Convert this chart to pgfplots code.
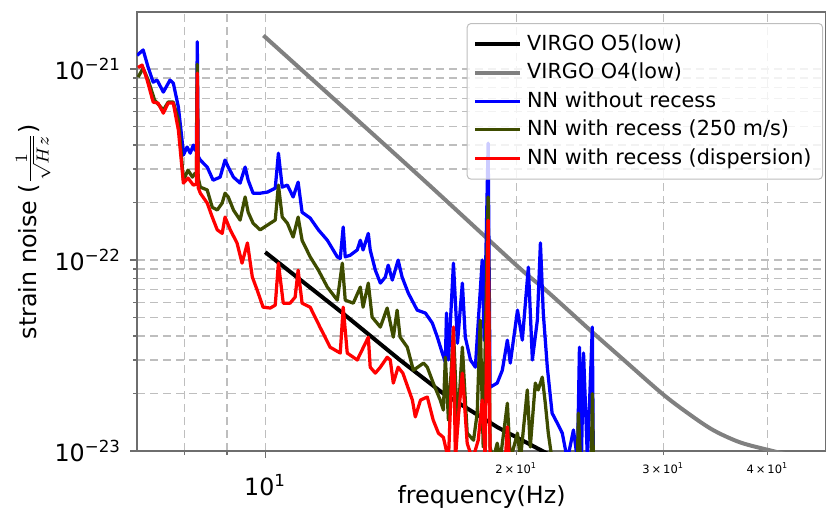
\documentclass[border=0pt]{standalone}
\usepackage{pgfplots}
\pgfplotsset{compat=1.18}
\usepackage{fontspec}
\setmainfont{DejaVu Sans}
\definecolor{nnblue}{RGB}{0,0,255}
\definecolor{nngreen}{RGB}{62,76,0}
\definecolor{nnred}{RGB}{255,0,0}
\definecolor{o4gray}{RGB}{128,128,128}
\definecolor{gridgray}{RGB}{190,190,190}
\definecolor{framegray}{RGB}{110,110,110}
\begin{document}
\begin{tikzpicture}
\begin{axis}[
  scale only axis, width=275.6pt, height=175.6pt,
  xmode=log, ymode=log,
  xmin=7.02, xmax=47, ymin=1e-23, ymax=1.99e-21,
  axis line style={framegray, line width=0.6pt},
  tick style={framegray, line width=0.6pt},
  tick align=outside, xtick pos=bottom, ytick pos=left,
  major tick length=2.8pt, minor tick length=1.6pt,
  xtick={10}, xticklabels={10\textsuperscript{1}},
  xticklabel style={yshift=-2.8pt},
  minor xtick={7,8,9,20,30,40},
  extra x ticks={20,30,40},
  extra x tick labels={2\,×\,10\textsuperscript{1},3\,×\,10\textsuperscript{1},4\,×\,10\textsuperscript{1}},
  extra x tick style={grid=none, major tick length=1.6pt, xticklabel style={yshift=3.2pt, font=\fontsize{4.6}{5.5}\selectfont}},
  ytick={1e-23,1e-22,1e-21},
  yticklabels={10\textsuperscript{−23},10\textsuperscript{−22},10\textsuperscript{−21}},
  minor ytick={2e-23,3e-23,4e-23,5e-23,6e-23,7e-23,8e-23,9e-23,2e-22,3e-22,4e-22,5e-22,6e-22,7e-22,8e-22,9e-22,2e-21},
  tick label style={font=\fontsize{9.5}{11}\selectfont},
  label style={font=\fontsize{9.5}{11}\selectfont},
  xlabel={frequency(Hz)},
  xlabel style={at={(axis description cs:0.5,0)}, anchor=base, yshift=-20.8pt},
  ylabel={strain noise ($\frac{1}{\sqrt{Hz}}$)},
  ylabel style={yshift=-5.2pt},
  grid=both,
  major grid style={gridgray, dash pattern=on 3.2pt off 2pt, line width=0.6pt},
  minor grid style={gridgray, dash pattern=on 3.2pt off 2pt, line width=0.6pt},
  legend style={at={(1,1)}, anchor=north east, xshift=-1.2pt, yshift=-4.4pt,
    draw=gridgray, fill=white, fill opacity=0.8, text opacity=1, rounded corners=1.5pt,
    font=\fontsize{8.3}{9.5}\selectfont, row sep=-0.4pt, inner sep=2.4pt},
  legend cell align=left,
  legend image code/.code={\draw[#1] (0pt,0pt) -- (18pt,0pt);},
  every axis plot/.append style={line join=round},
]
\addplot[black, line width=1.6pt] coordinates {
(10,1.10e-22) (12.3,5.4e-23) (14.5,3.0e-23) (16.35,2.0e-23) (19.0,1.33e-23) (21.5,1.0e-23) (22.5,9e-24)
};
\addlegendentry{VIRGO O5(low)}
\addplot[o4gray, line width=1.6pt, smooth] coordinates {
(9.95,1.5e-21) (15,2.98e-22) (20,9.4e-23) (21.66,7.0e-23) (24.73,4.15e-23) (26.9,3.0e-23) (29.9,2.0e-23) (32.1,1.58e-23) (34.4,1.29e-23) (37.1,1.11e-23) (40.6,1.0e-23) (47,8.6e-24)
};
\addlegendentry{VIRGO O4(low)}
\addplot[nnblue, line width=1.3pt] coordinates {
(7.02,1.18e-21) (7.14,1.26e-21) (7.24,1.02e-21) (7.34,8.55e-22) (7.42,8.76e-22) (7.55,7.58e-22) (7.69,8.76e-22) (7.76,8.45e-22) (7.87,6.32e-22) (7.95,4.25e-22) (7.98,3.55e-22) (8.06,3.91e-22) (8.13,3.63e-22) (8.20,4.00e-22) (8.24,3.77e-22) (8.27,3.8e-22) (8.29,1.39e-21) (8.31,3.5e-22) (8.36,3.34e-22) (8.52,3.07e-22) (8.66,2.62e-22) (8.83,2.72e-22) (8.95,3.34e-22) (9.03,3.07e-22) (9.16,2.72e-22) (9.33,2.53e-22) (9.46,3.07e-22) (9.54,2.62e-22) (9.67,2.24e-22) (9.86,2.24e-22) (10.06,2.27e-22) (10.28,2.38e-22) (10.37,3.63e-22) (10.48,2.41e-22) (10.63,2.47e-22) (10.80,2.14e-22) (10.95,2.56e-22) (11.07,1.78e-22) (11.32,1.66e-22) (11.58,1.44e-22) (11.87,1.27e-22) (12.20,1.04e-22) (12.30,1.02e-22) (12.40,1.49e-22) (12.47,1.04e-22) (12.64,1.06e-22) (12.89,1.13e-22) (13.00,1.27e-22) (13.10,1.13e-22) (13.29,1.38e-22) (13.36,1.13e-22) (13.55,8.86e-23) (13.74,7.58e-23) (13.93,8.15e-23) (14.04,9.41e-23) (14.20,7.86e-23) (14.43,1.00e-22) (14.59,8.15e-23) (14.84,6.72e-23) (15.21,5.47e-23) (15.56,5.28e-23) (15.86,4.68e-23) (16.08,3.95e-23) (16.30,3.26e-23) (16.44,2.92e-23) (16.49,5.28e-23) (16.58,3.00e-23) (16.81,9.64e-23) (17.00,3.67e-23) (17.23,7.58e-23) (17.37,3.95e-23) (17.62,3.00e-23) (17.86,2.75e-23) (18.2,1.00e-22) (18.3,3.8e-23) (18.50,4.1e-22) (18.6,2.16e-23) (18.97,2.27e-23) (19.24,2.65e-23) (19.51,3.81e-23) (19.67,2.89e-23) (20.06,5.47e-23) (20.33,3.81e-23) (20.67,9.19e-23) (20.90,3.00e-23) (21.19,4.85e-23) (21.37,1.23e-22) (21.54,5.28e-23) (21.78,2.75e-23) (22.07,1.58e-23) (22.39,1.40e-23) (22.70,1.24e-23) (23.02,9e-24) (23.41,1.29e-23) (23.67,9e-24) (23.80,3.50e-23) (23.93,9e-24) (24.07,3.26e-23) (24.33,9e-24) (24.66,4.46e-23) (24.73,9e-24)
};
\addlegendentry{NN without recess}
\addplot[nngreen, line width=1.3pt] coordinates {
(7.04,9.08e-22) (7.14,1.01e-21) (7.24,8.76e-22) (7.37,6.88e-22) (7.55,6.10e-22) (7.65,6.72e-22) (7.76,6.72e-22) (7.87,5.41e-22) (7.95,3.22e-22) (7.98,2.62e-22) (8.08,2.96e-22) (8.18,2.72e-22) (8.24,2.85e-22) (8.27,2.8e-22) (8.29,1.06e-21) (8.31,2.7e-22) (8.36,2.41e-22) (8.52,2.33e-22) (8.64,1.89e-22) (8.76,1.83e-22) (8.88,1.99e-22) (8.95,2.24e-22) (9.03,2.14e-22) (9.16,1.83e-22) (9.33,1.62e-22) (9.46,2.14e-22) (9.54,1.78e-22) (9.67,1.56e-22) (9.86,1.44e-22) (10.14,1.56e-22) (10.28,1.62e-22) (10.37,2.47e-22) (10.48,1.68e-22) (10.63,1.56e-22) (10.80,1.32e-22) (10.95,1.68e-22) (11.07,1.27e-22) (11.32,1.04e-22) (11.58,8.86e-23) (11.87,7.22e-23) (12.20,6.17e-23) (12.37,9.64e-23) (12.47,6.17e-23) (12.75,5.95e-23) (13.00,7.22e-23) (13.10,5.67e-23) (13.29,7.58e-23) (13.43,5.03e-23) (13.74,4.46e-23) (14.00,5.61e-23) (14.24,3.95e-23) (14.39,5.47e-23) (14.51,3.95e-23) (14.80,3.50e-23) (15.05,2.65e-23) (15.48,2.89e-23) (15.64,2.75e-23) (15.90,2.27e-23) (16.21,1.85e-23) (16.35,1.64e-23) (16.44,3.10e-23) (16.58,1.45e-23) (16.81,4.30e-23) (17.00,1.34e-23) (17.23,3.50e-23) (17.46,1.24e-23) (17.77,1.14e-23) (17.95,1.58e-23) (18.10,4.85e-23) (18.25,1.05e-23) (18.50,2.14e-22) (18.6,1.05e-23) (18.76,9e-24) (18.97,1.10e-23) (19.13,9e-24) (19.51,1.78e-23) (19.67,9e-24) (20.06,1.24e-23) (20.22,9e-24) (20.61,2.09e-23) (20.78,1.05e-23) (21.07,2.27e-23) (21.24,2.09e-23) (21.48,2.44e-23) (21.66,1.78e-23) (21.84,1.24e-23) (22.07,9e-24) (23.67,9e-24) (23.73,1.58e-23) (23.87,9e-24) (24.60,9e-24) (24.66,2.0e-23) (24.73,9e-24)
};
\addlegendentry{NN with recess (250 m/s)}
\addplot[nnred, line width=1.3pt] coordinates {
(7.04,1.02e-21) (7.12,1.05e-21) (7.22,8.76e-22) (7.34,6.72e-22) (7.44,6.64e-22) (7.55,5.88e-22) (7.65,6.64e-22) (7.76,6.64e-22) (7.87,4.79e-22) (7.98,2.53e-22) (8.08,2.69e-22) (8.20,2.47e-22) (8.27,2.5e-22) (8.29,9.53e-22) (8.31,2.4e-22) (8.36,2.24e-22) (8.52,1.99e-22) (8.64,1.68e-22) (8.76,1.44e-22) (8.88,1.38e-22) (8.95,1.68e-22) (9.08,1.44e-22) (9.25,1.23e-22) (9.38,9.64e-23) (9.52,1.23e-22) (9.65,8.15e-23) (9.78,6.97e-23) (9.94,5.67e-23) (10.14,5.61e-23) (10.28,5.81e-23) (10.37,9.64e-23) (10.51,5.95e-23) (10.71,5.95e-23) (10.86,6.40e-23) (10.95,8.86e-23) (11.07,5.95e-23) (11.32,5.67e-23) (11.63,4.46e-23) (11.96,3.50e-23) (12.30,3.26e-23) (12.40,5.67e-23) (12.54,3.26e-23) (12.89,3.00e-23) (13.29,3.95e-23) (13.36,2.75e-23) (13.55,2.56e-23) (13.74,2.75e-23) (14.00,3.10e-23) (14.12,3.00e-23) (14.24,2.27e-23) (14.43,2.75e-23) (14.62,2.56e-23) (15.01,1.85e-23) (15.13,1.51e-23) (15.35,1.85e-23) (15.64,1.92e-23) (15.90,1.45e-23) (16.13,1.24e-23) (16.35,1.18e-23) (16.58,9e-24) (16.81,4.46e-23) (16.9,9e-24) (17.04,1.51e-23) (17.23,2.56e-23) (17.46,1.10e-23) (17.72,9e-24) (18.0,1.14e-23) (18.2,1.85e-23) (18.35,9e-24) (18.50,1.62e-22) (18.6,9e-24) (19.4,9e-24) (19.51,1.34e-23) (19.62,9e-24)
};
\addlegendentry{NN with recess (dispersion)}
\end{axis}
\pgfresetboundingbox
\useasboundingbox ([xshift=-54.8pt,yshift=-24.8pt]current axis.south west) rectangle ([yshift=4.8pt]current axis.north east);
\end{tikzpicture}
\end{document}
